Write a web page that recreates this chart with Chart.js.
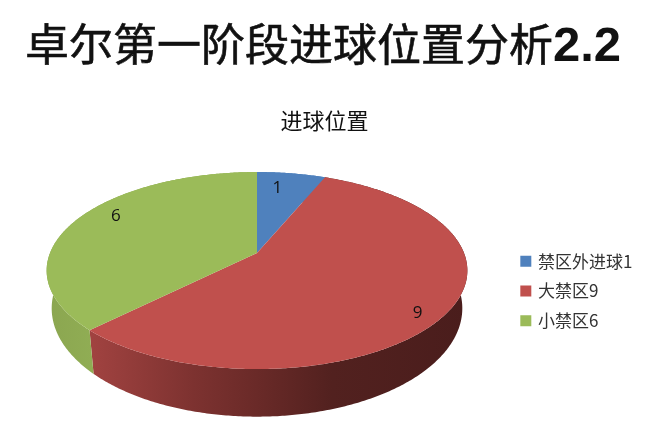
<!DOCTYPE html>
<html lang="zh">
<head>
    <meta charset="UTF-8">
    <title>卓尔第一阶段进球位置分析2.2</title>
    <script src="https://cdn.jsdelivr.net/npm/chart.js"></script>
    <style>
        body {
            margin: 0;
            background-color: #ffffff;
        }
        h1 {
            position: absolute;
            left: 25px;
            top: 13px;
            margin: 0;
            font: 400 44px "Noto Sans CJK SC", sans-serif;
            line-height: 58px;
            color: #111111;
            white-space: nowrap;
            -webkit-text-stroke: 0.6px #111111;
        }
        h1 b {
            font: 700 49px "Liberation Sans", Arial, sans-serif;
            -webkit-text-stroke: 0;
        }
        canvas {
            display: block;
        }
    </style>
</head>
<body>
    <h1>卓尔第一阶段进球位置分析<b>2.2</b></h1>
    <canvas id="pieChart" width="650" height="427"></canvas>

    <script>
        const categories = ['禁区外进球1', '大禁区9', '小禁区6'];
        const goals = [1, 9, 6];
        const sliceColors = ['#4f81bd', '#c0504d', '#9bbb59'];

        // Perspective of the tilted disc, fitted to the reference
        const centerX = 257, centerY = 253;
        const radiusX = 207, radiusY = 95.4, tilt = -0.178;
        const baseScaleX = 0.976, baseScaleY = 1.1, baseY = 289;
        // Pixel nudge of the value labels from the slice middle
        const labelNudge = [[-8, 1], [11, 14], [4, -9]];

        function project(angle, r) {
            const u = r * Math.cos(angle), v = r * Math.sin(angle);
            const d = 1 + tilt * v;
            return [centerX + radiusX * u / d, centerY + radiusY * v / d];
        }

        function projectBase(angle) {
            const p = project(angle, 1);
            return [centerX + (p[0] - centerX) * baseScaleX, baseY + (p[1] - centerY) * baseScaleY];
        }

        function rimAngles(start, end) {
            const steps = Math.ceil((end - start) / 0.01);
            const out = [];
            for (let i = 0; i <= steps; i++) out.push(start + (end - start) * i / steps);
            return out;
        }

        // Side wall shading runs from left to right
        function sideFill(ctx, index) {
            const g = ctx.createLinearGradient(47, 0, 466, 0);
            if (index === 2) {
                g.addColorStop(0, '#8ba650');
                g.addColorStop(0.11, '#90ad54');
                g.addColorStop(1, '#90ad54');
            } else if (index === 1) {
                g.addColorStop(0, '#a04240');
                g.addColorStop(0.11, '#a04240');
                g.addColorStop(0.35, '#7d3230');
                g.addColorStop(0.5, '#6a2a28');
                g.addColorStop(0.68, '#52211f');
                g.addColorStop(1, '#4a1d1c');
            } else {
                g.addColorStop(0, sliceColors[0]);
                g.addColorStop(1, sliceColors[0]);
            }
            return g;
        }

        const tiltedPie = {
            id: 'tiltedPie',
            // the legend sits lower and further left than the layout puts it
            afterLayout(chart) {
                chart.legend.left -= 6.5;
                chart.legend.top += 24;
                chart.legend.bottom += 24;
            },
            beforeDatasetsDraw(chart) {
                const ctx = chart.ctx;
                const arcs = chart.getDatasetMeta(0).data;

                // side walls first, the top face hides whatever is at the back
                arcs.forEach((arc, i) => {
                    const angles = rimAngles(arc.startAngle, arc.endAngle);
                    ctx.beginPath();
                    angles.forEach(a => ctx.lineTo(...project(a, 1)));
                    angles.slice().reverse().forEach(a => ctx.lineTo(...projectBase(a)));
                    ctx.closePath();
                    ctx.fillStyle = sideFill(ctx, i);
                    ctx.fill();
                });

                arcs.forEach(arc => {
                    ctx.beginPath();
                    ctx.moveTo(centerX, centerY);
                    rimAngles(arc.startAngle, arc.endAngle).forEach(a => ctx.lineTo(...project(a, 1)));
                    ctx.closePath();
                    ctx.fillStyle = arc.options.backgroundColor;
                    ctx.fill();
                });

                ctx.font = '17px "Open Sans", sans-serif';
                ctx.fillStyle = '#111111';
                ctx.textAlign = 'center';
                ctx.textBaseline = 'middle';
                arcs.forEach((arc, i) => {
                    const p = project((arc.startAngle + arc.endAngle) / 2, 0.8);
                    ctx.fillText(goals[i], p[0] + labelNudge[i][0], p[1] + labelNudge[i][1]);
                });
                return false;
            }
        };

        new Chart(document.getElementById('pieChart'), {
            type: 'pie',
            data: {
                labels: categories,
                datasets: [{
                    data: goals,
                    backgroundColor: sliceColors,
                    // only the legend boxes show this border, it keeps them tight to the text
                    borderColor: sliceColors,
                    borderWidth: 3.5
                }]
            },
            options: {
                responsive: false,
                animation: false,
                layout: {
                    padding: { top: 107, right: 1, bottom: 0, left: 0 }
                },
                plugins: {
                    title: {
                        display: true,
                        text: '进球位置',
                        color: '#111111',
                        font: { family: '"Noto Sans CJK SC", sans-serif', size: 22, weight: 'normal' },
                        padding: { top: 0, bottom: 49 }
                    },
                    legend: {
                        position: 'right',
                        labels: {
                            boxWidth: 7.5,
                            boxHeight: 7.5,
                            padding: 12.7,
                            color: '#333333',
                            font: { family: '"Noto Sans CJK SC", sans-serif', size: 17 }
                        }
                    },
                    tooltip: { enabled: false }
                }
            },
            plugins: [tiltedPie]
        });
    </script>
</body>
</html>
